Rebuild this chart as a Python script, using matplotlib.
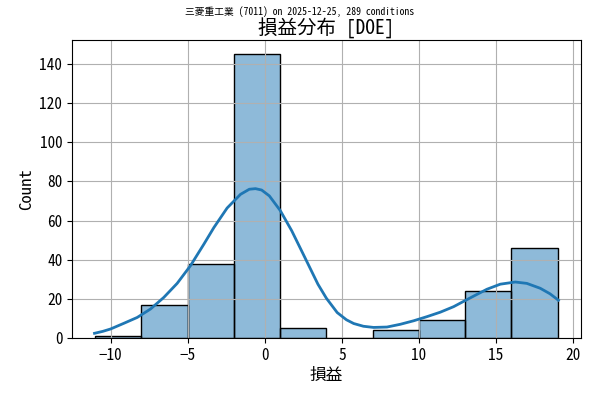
import matplotlib
matplotlib.use("Agg")
import matplotlib.pyplot as plt
import numpy as np

plt.rcParams['font.family'] = ['Noto Sans Mono CJK JP', 'DejaVu Sans Mono', 'Noto Sans CJK JP']

# histogram bins (edges) and counts
bin_edges = [-11, -8, -5, -2, 1, 4, 7, 10, 13, 16, 19]
counts = [1, 17, 38, 145, 5, 0, 4, 9, 24, 46]

# kde curve
kde_x = [-11.04, -10.5, -10, -9.14, -8.27, -7.41, -6.55, -5.68, -4.82, -3.95,
         -3.3, -2.44, -1.57, -1.0, -0.6, -0.2, 0.3, 1.0, 1.75, 2.58, 3.45,
         4.0, 4.7, 5.3, 5.77, 6.4, 7.06, 7.93, 8.79, 9.66, 10.52, 11.39,
         12.25, 12.68, 13.55, 14.41, 15.28, 16.25, 17.0, 17.87, 18.5, 19.05]
kde_y = [2.4, 3.4, 4.6, 7.5, 10.5, 14.8, 20.7, 27.9, 36.9, 47.9,
         56.4, 66.4, 73.4, 76.0, 76.3, 75.6, 72.6, 65.2, 54.8, 41.5, 27.5,
         20.3, 13.0, 9.3, 7.4, 6.0, 5.4, 5.6, 7.0, 8.8, 10.9, 13.2,
         16.0, 17.8, 21.4, 24.9, 27.5, 28.6, 27.9, 25.4, 22.6, 19.3]

fig, ax = plt.subplots(figsize=(6, 4), dpi=100)
fig.subplots_adjust(left=0.12, right=0.968, top=0.9, bottom=0.155)

edges = np.array(bin_edges, dtype=float)
ax.bar(edges[:-1], counts, width=np.diff(edges), align='edge',
       color='#1f77b4', alpha=0.5, edgecolor='none')
ax.bar(edges[:-1], counts, width=np.diff(edges), align='edge',
       facecolor='none', edgecolor='black', linewidth=1)
ax.plot(kde_x, kde_y, color='#1f77b4', linewidth=2)

ax.set_xlim(-12.5, 20.5)
ax.set_ylim(0, 152.25)
ax.grid(True, color='#b0b0b0', linewidth=0.8)
ax.tick_params(labelsize=11)
ax.set_xlabel('損益', fontsize=12)
ax.set_ylabel('Count', fontsize=12)
ax.set_title('損益分布 [DOE]', fontsize=14, pad=4)
fig.suptitle('三菱重工業 (7011) on 2025-12-25, 289 conditions', fontsize=7, y=0.985)

fig.savefig('out.png')
